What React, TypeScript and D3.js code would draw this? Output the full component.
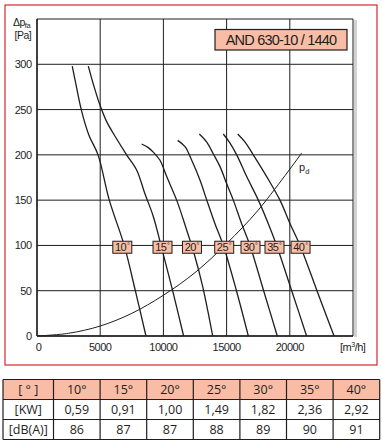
import React from "react";
import * as d3 from "d3";

const W = 382;
const H = 444;

// axis ticks
const xTicks = [0, 5000, 10000, 15000, 20000, 25000];
const xTickLabels = ["0", "5000", "10000", "15000", "20000", ""];
const yTicks = [0, 50, 100, 150, 200, 250, 300, 350];
const yTickLabels = ["0", "50", "100", "150", "200", "250", "300", ""];

// fan curves: flow [m3/h] vs pressure [Pa]
const flow10 = [2790, 3050, 3500, 4100, 4830, 5720, 6900, 7780, 8620];
const pres10 = [298, 280, 250, 222, 200, 150, 100, 50, 0];
const flow15 = [4060, 4520, 4980, 5500, 6200, 7090, 7890, 8540, 9200, 9810, 10730, 11600];
const pres15 = [298, 275, 255, 237, 220, 200, 183, 157, 132, 100, 50, 0];
const flow20 = [8280, 8800, 9200, 9730, 10260, 11050, 11840, 12450, 13100, 13900];
const pres20 = [212, 208, 203, 194, 176, 150, 117, 90, 55, 0];
const flow25 = [11130, 11710, 12240, 12900, 13430, 14080, 14740, 15780, 16720];
const pres25 = [216, 209, 194, 172, 150, 124, 100, 50, 0];
const flow30 = [12840, 13430, 13950, 14480, 15010, 15530, 16190, 16850, 17930, 19010];
const pres30 = [223, 214, 201, 187, 168, 150, 124, 100, 50, 0];
const flow35 = [14740, 15270, 15800, 16590, 17510, 18300, 18960, 20150, 21330];
const pres35 = [223, 213, 200, 176, 150, 124, 100, 50, 0];
const flow40 = [15880, 16460, 17110, 18170, 19220, 20020, 20810, 22150, 23500];
const pres40 = [223, 214, 200, 176, 150, 124, 100, 50, 0];

const bladeAngles = ["10", "15", "20", "25", "30", "35", "40"];
const labelFlows = [6750, 9930, 12260, 14810, 16890, 18790, 20850];
const labelPressure = 98;

// dynamic pressure curve
const flowPd = [0, 2500, 5000, 7500, 10000, 12500, 15000, 17500, 20940];
const presPd = [0, 3, 11, 25, 45, 70, 102, 139, 202];

// table
const tableAngles = ["10°", "15°", "20°", "25°", "30°", "35°", "40°"];
const tableKW = ["0,59", "0,91", "1,00", "1,49", "1,82", "2,36", "2,92"];
const tableDB = ["86", "87", "87", "88", "89", "90", "91"];

const curves = [
  { flows: flow10, pres: pres10 },
  { flows: flow15, pres: pres15 },
  { flows: flow20, pres: pres20 },
  { flows: flow25, pres: pres25 },
  { flows: flow30, pres: pres30 },
  { flows: flow35, pres: pres35 },
  { flows: flow40, pres: pres40 },
];

const SALMON = "#f9bda5";
const INK = "#1e1e1e";
const FONT = "'Liberation Sans', Arial, sans-serif";
const TFONT = "'Open Sans', 'Noto Sans', sans-serif";

export default function App() {
  const x = d3.scaleLinear().domain([0, 25000]).range([37, 353]);
  const y = d3.scaleLinear().domain([0, 350]).range([336, 19]);

  const line = d3
    .line<[number, number]>()
    .x((d) => x(d[0]))
    .y((d) => y(d[1]))
    .curve(d3.curveCatmullRom.alpha(0.5));

  const pts = (f: number[], p: number[]) => f.map((v, i) => [v, p[i]] as [number, number]);

  // table geometry
  const tX0 = 3;
  const tCol0 = 50.5;
  const tColW = 46.6;
  const tY0 = 379.5;
  const tRowH = 20;
  const colX = (i: number) => (i === 0 ? tX0 : tX0 + tCol0 + (i - 1) * tColW);
  const tRight = tX0 + tCol0 + 7 * tColW;
  const rows = [
    ["[ ° ]", ...tableAngles],
    ["[KW]", ...tableKW],
    ["[dB(A)]", ...tableDB],
  ];

  return (
    <svg width={W} height={H} style={{ position: "absolute", left: 0, top: 0, background: "#fff" }}>
      {/* red frame */}
      <rect x={5} y={5} width={372} height={360} fill="none" stroke="#d8262f" strokeWidth={1.2} />

      {/* shadow */}
      <rect x={354} y={20} width={3} height={317} fill="#d2d2d2" />

      {/* grid */}
      {xTicks.map((t) => (
        <line key={"gx" + t} x1={x(t)} x2={x(t)} y1={y(350)} y2={y(0)} stroke={INK} strokeWidth={1} />
      ))}
      {yTicks.map((t) => (
        <line key={"gy" + t} x1={x(0)} x2={x(25000)} y1={y(t)} y2={y(t)} stroke={INK} strokeWidth={1} />
      ))}
      <line x1={x(0)} x2={x(0)} y1={y(350)} y2={y(0)} stroke={INK} strokeWidth={1.4} />
      <line x1={x(0)} x2={x(25000)} y1={y(0)} y2={y(0)} stroke={INK} strokeWidth={1.4} />

      {/* y tick labels */}
      {yTicks.map((t, i) =>
        yTickLabels[i] ? (
          <text key={"yl" + t} x={31.5} y={y(t) + 4} textAnchor="end" fontFamily={FONT} fontSize={11} letterSpacing={-0.5} fill={INK}>
            {yTickLabels[i]}
          </text>
        ) : null
      )}
      {/* x tick labels */}
      {xTicks.map((t, i) =>
        xTickLabels[i] ? (
          <text key={"xl" + t} x={x(t) + (t === 0 ? 1.5 : 0)} y={350.5} textAnchor="middle" fontFamily={FONT} fontSize={11} letterSpacing={-0.5} fill={INK}>
            {xTickLabels[i]}
          </text>
        ) : null
      )}
      <text x={340} y={350.5} fontFamily={FONT} fontSize={11} letterSpacing={-0.5} fill={INK}>
        [m
        <tspan fontSize={7} dy={-4}>3</tspan>
        <tspan dy={4}>/h]</tspan>
      </text>

      {/* y title */}
      <text x={13} y={26} fontFamily={FONT} fontSize={10.5} letterSpacing={-0.5} fill={INK}>
        Δp
        <tspan fontSize={7.5} dy={2}>fa</tspan>
      </text>
      <text x={14.5} y={39} fontFamily={FONT} fontSize={10.5} letterSpacing={-0.5} fill={INK}>
        [Pa]
      </text>

      {/* title box */}
      <rect x={215} y={29.5} width={132} height={20.5} fill={SALMON} stroke={INK} strokeWidth={1.2} />
      <text x={281} y={45} textAnchor="middle" fontFamily={FONT} fontSize={14.5} letterSpacing={-0.8} fill={INK}>
        AND 630-10 / 1440
      </text>

      {/* pd curve */}
      <path d={line(pts(flowPd, presPd)) || ""} fill="none" stroke={INK} strokeWidth={1} />
      <text x={299} y={170.5} fontFamily={FONT} fontSize={11} fill={INK}>
        p
        <tspan fontSize={7.5} dy={3}>d</tspan>
      </text>

      {/* fan curves */}
      {curves.map((c, i) => (
        <path key={"c" + i} d={line(pts(c.flows, c.pres)) || ""} fill="none" stroke={INK} strokeWidth={1.3} />
      ))}

      {/* angle labels */}
      {bladeAngles.map((a, i) => {
        const cx = x(labelFlows[i]);
        const cy = y(labelPressure);
        return (
          <g key={"lab" + a}>
            <rect x={cx - 9.5} y={cy - 6} width={19} height={12} fill={SALMON} stroke={INK} strokeWidth={1} />
            <text x={cx - 1.8} y={cy + 4} textAnchor="middle" fontFamily={FONT} fontSize={11} letterSpacing={-0.6} fill={INK}>
              {a}
            </text>
            <text x={cx + 6} y={cy + 0.5} textAnchor="middle" fontFamily={FONT} fontSize={7} fill={INK}>
              °
            </text>
          </g>
        );
      })}

      {/* table */}
      <rect x={tX0} y={tY0} width={tRight - tX0} height={tRowH} fill={SALMON} />
      {rows.map((r, ri) =>
        r.map((cell, ci) => {
          const cx0 = colX(ci);
          const w = ci === 0 ? tCol0 : tColW;
          return (
            <text
              key={"t" + ri + "-" + ci}
              x={cx0 + w / 2}
              y={tY0 + ri * tRowH + tRowH / 2 + 4.5}
              textAnchor="middle"
              fontFamily={TFONT}
              fontSize={12.5}
              fill={INK}
            >
              {cell}
            </text>
          );
        })
      )}
      {[0, 1, 2, 3].map((ri) => (
        <line key={"th" + ri} x1={tX0} x2={tRight} y1={tY0 + ri * tRowH} y2={tY0 + ri * tRowH} stroke={INK} strokeWidth={1.2} />
      ))}
      {d3.range(9).map((ci) => {
        const xx = ci === 8 ? tRight : colX(ci);
        return <line key={"tv" + ci} x1={xx} x2={xx} y1={tY0} y2={tY0 + 3 * tRowH} stroke={INK} strokeWidth={1.2} />;
      })}
    </svg>
  );
}
